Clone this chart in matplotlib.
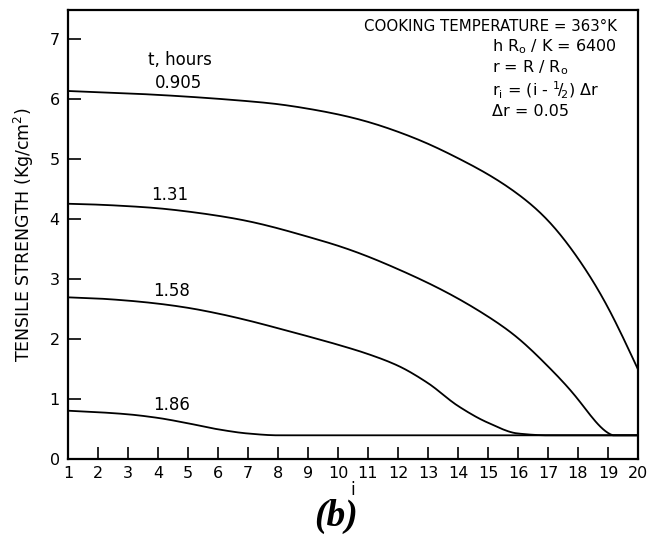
import matplotlib
matplotlib.use("Agg")
import matplotlib.pyplot as plt
import numpy as np

# ---- data ----
i_nodes = list(range(1, 21))
t_labels = ["0.905", "1.31", "1.58", "1.86"]
s_0905 = [6.14, 6.12, 6.10, 6.075, 6.045, 6.01, 5.97, 5.92, 5.845, 5.75,
          5.625, 5.46, 5.26, 5.02, 4.75, 4.42, 3.98, 3.35, 2.53, 1.50]
s_131 = [4.26, 4.245, 4.22, 4.185, 4.13, 4.06, 3.97, 3.85, 3.71, 3.56,
         3.38, 3.17, 2.94, 2.68, 2.38, 2.02, 1.55, 1.00, 0.44, 0.40]
s_158 = [2.70, 2.68, 2.645, 2.595, 2.525, 2.43, 2.315, 2.185, 2.05, 1.91,
         1.755, 1.56, 1.27, 0.89, 0.61, 0.43, 0.40, 0.40, 0.40, 0.40]
s_186 = [0.81, 0.785, 0.75, 0.69, 0.60, 0.50, 0.43, 0.40, 0.40, 0.40,
         0.40, 0.40, 0.40, 0.40, 0.40, 0.40, 0.40, 0.40, 0.40, 0.40]
x_ticks = list(range(1, 21))
y_ticks = list(range(0, 8))
floor_value = 0.40

series = [s_0905, s_131, s_158, s_186]
smooth_kind = ["natural", "natural", "pchip", "pchip"]


def hermite(x, y, m, n=12):
    xs, ys = [], []
    h = np.diff(x)
    for k in range(len(x) - 1):
        t = np.linspace(0, 1, n, endpoint=False)
        h00 = 2 * t**3 - 3 * t**2 + 1
        h10 = t**3 - 2 * t**2 + t
        h01 = -2 * t**3 + 3 * t**2
        h11 = t**3 - t**2
        xs.append(x[k] + t * h[k])
        ys.append(h00 * y[k] + h10 * h[k] * m[k] + h01 * y[k + 1] + h11 * h[k] * m[k + 1])
    xs.append([x[-1]])
    ys.append([y[-1]])
    return np.concatenate(xs), np.concatenate(ys)


def pchip_curve(x, y):
    x = np.asarray(x, float)
    y = np.asarray(y, float)
    h = np.diff(x)
    d = np.diff(y) / h
    m = np.zeros_like(y)
    for k in range(1, len(y) - 1):
        if d[k - 1] * d[k] <= 0:
            m[k] = 0.0
        else:
            w1 = 2 * h[k] + h[k - 1]
            w2 = h[k] + 2 * h[k - 1]
            m[k] = (w1 + w2) / (w1 / d[k - 1] + w2 / d[k])
    m[0] = d[0]
    m[-1] = d[-1]
    return hermite(x, y, m)


def natural_curve(x, y):
    x = np.asarray(x, float)
    y = np.asarray(y, float)
    n = len(x)
    h = np.diff(x)
    A = np.zeros((n, n))
    b = np.zeros(n)
    A[0, 0] = 2 * h[0]; A[0, 1] = h[0]
    b[0] = 3 * (y[1] - y[0])
    A[-1, -2] = h[-1]; A[-1, -1] = 2 * h[-1]
    b[-1] = 3 * (y[-1] - y[-2])
    for k in range(1, n - 1):
        A[k, k - 1] = h[k]
        A[k, k] = 2 * (h[k - 1] + h[k])
        A[k, k + 1] = h[k - 1]
        b[k] = 3 * (h[k] * (y[k] - y[k - 1]) / h[k - 1] + h[k - 1] * (y[k + 1] - y[k]) / h[k])
    m = np.linalg.solve(A, b)
    return hermite(x, y, m)


fig = plt.figure(figsize=(6.57, 5.35), dpi=100)
ax = fig.add_axes([0.1035, 0.1415, 0.8675, 0.8398])

for s, kind in zip(series, smooth_kind):
    if kind == "natural":
        xx, yy = natural_curve(i_nodes, s)
        yy = np.maximum(yy, floor_value)
    else:
        xx, yy = pchip_curve(i_nodes, s)
    ax.plot(xx, yy, color="black", lw=1.3, solid_capstyle="butt")

ax.set_xlim(1, 20)
ax.set_ylim(0, 7.49)
ax.set_xticks(x_ticks)
ax.set_yticks(y_ticks)
ax.tick_params(axis="both", direction="in", length=9, width=1.2,
               labelsize=11.5, colors="black")
ax.tick_params(axis="x", pad=5)
ax.tick_params(axis="y", pad=6)
for sp in ax.spines.values():
    sp.set_linewidth(1.6)

ax.set_ylabel("TENSILE STRENGTH (Kg/cm$^{2}$)", fontsize=12.5, labelpad=10)
ax.set_xlabel("i", fontsize=12, labelpad=0)

# curve labels
label_pos = [(4.67, 6.27), (4.4, 4.40), (4.45, 2.81), (4.45, 0.90)]
for lab, (x, y) in zip(t_labels, label_pos):
    ax.text(x, y, lab, fontsize=12, ha="center", va="center")
ax.text(4.73, 6.66, "t, hours", fontsize=12, ha="center", va="center")

# parameter block
ax.text(0.963, 0.963, "COOKING TEMPERATURE = 363\u00b0K", transform=ax.transAxes,
        fontsize=10.8, ha="right", va="center")
params = ["h R$_{\\rm o}$ / K = 6400",
          "r = R / R$_{\\rm o}$",
          "r$_{\\rm i}$ = (i - $^{1}\\!/\\!_{2}$) \u0394r",
          "\u0394r = 0.05"]
py = [47, 68, 90, 111]
for txt, yy in zip(params, py):
    ax.text(491.7 / 657, 1 - yy / 535, txt, transform=fig.transFigure,
            fontsize=11.5, ha="left", va="center")

fig.text(336 / 657, 1 - 516 / 535, "(b)", fontsize=27, fontweight="bold",
         fontstyle="italic", family="Liberation Serif", ha="center", va="center")

fig.savefig("out.png", dpi=100)
